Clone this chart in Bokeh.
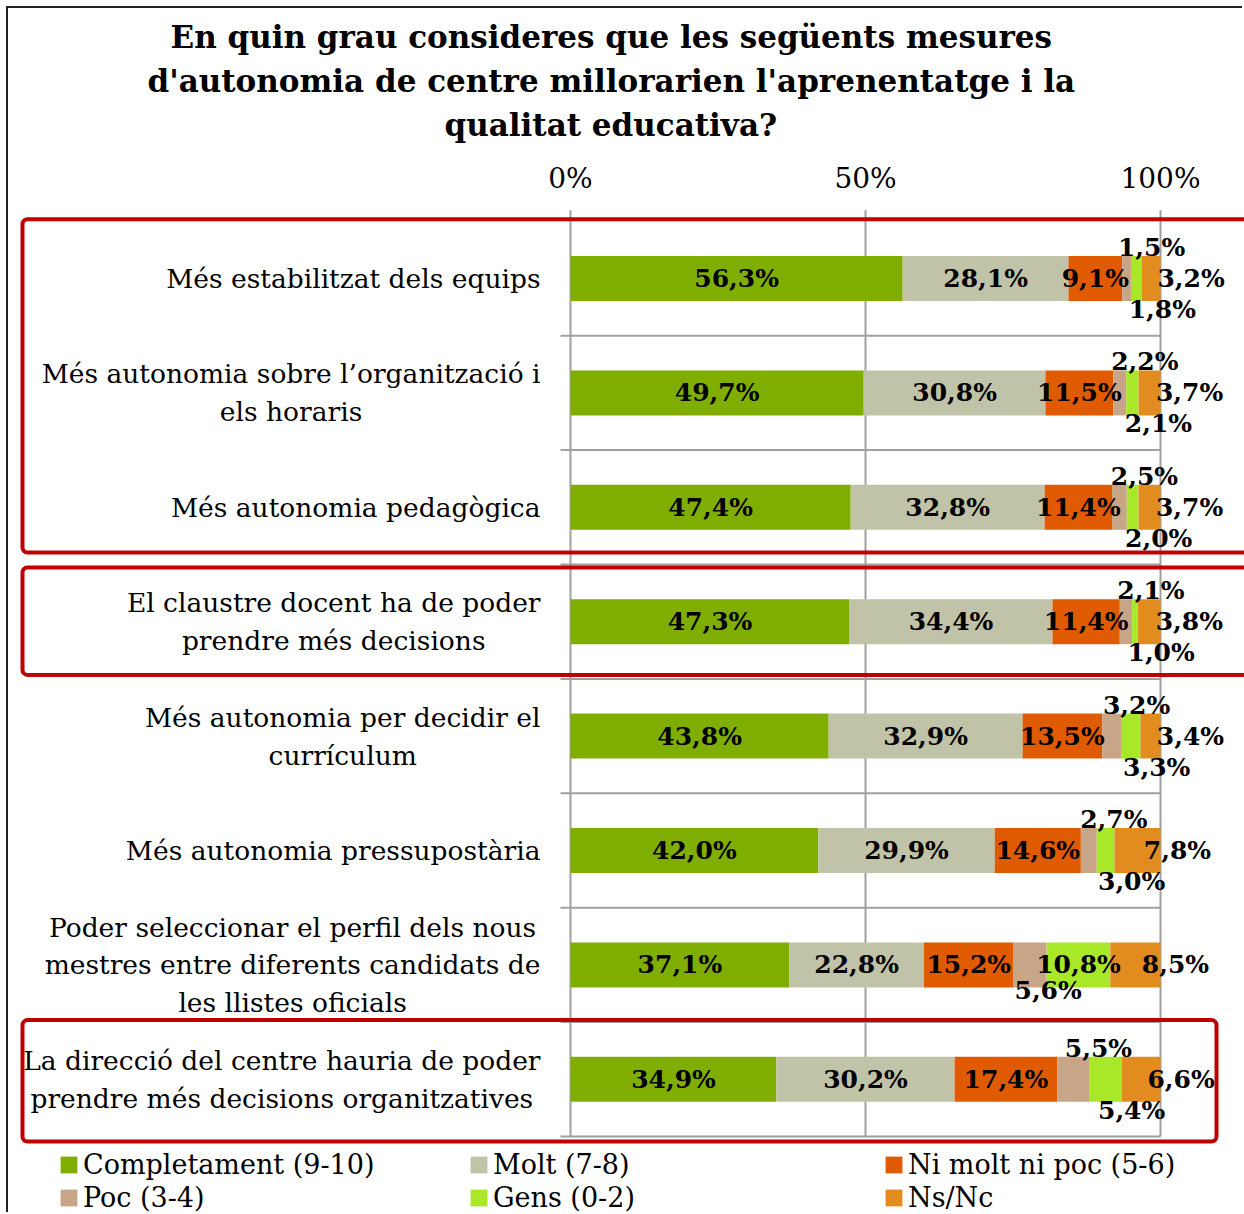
from bokeh.plotting import figure
from bokeh.models import (ColumnDataSource, Range1d, FixedTicker, Legend, LegendItem,
                          BoxAnnotation, Title)
from bokeh.core.properties import value
from bokeh.embed import file_html
from bokeh.resources import INLINE

# ---------------- data ----------------
categories = [
    "Més estabilitzat dels equips",
    "Més autonomia sobre l’organització i\nels horaris",
    "Més autonomia pedagògica",
    "El claustre docent ha de poder\nprendre més decisions",
    "Més autonomia per decidir el\ncurrículum",
    "Més autonomia pressupostària",
    "Poder seleccionar el perfil dels nous\nmestres entre diferents candidats de\nles llistes oficials",
    "La direcció del centre hauria de poder\nprendre més decisions organitzatives",
]
series = ["Completament (9-10)", "Molt (7-8)", "Ni molt ni poc (5-6)",
          "Poc (3-4)", "Gens (0-2)", "Ns/Nc"]
completament = [56.3, 49.7, 47.4, 47.3, 43.8, 42.0, 37.1, 34.9]
molt = [28.1, 30.8, 32.8, 34.4, 32.9, 29.9, 22.8, 30.2]
ni_molt_ni_poc = [9.1, 11.5, 11.4, 11.4, 13.5, 14.6, 15.2, 17.4]
poc = [1.5, 2.2, 2.5, 2.1, 3.2, 2.7, 5.6, 5.5]
gens = [1.8, 2.1, 2.0, 1.0, 3.3, 3.0, 10.8, 5.4]
ns_nc = [3.2, 3.7, 3.7, 3.8, 3.4, 7.8, 8.5, 6.6]
x_ticks = [0, 50, 100]
x_tick_labels = ["0%", "50%", "100%"]
# groups of categories framed in red (first index, last index)
highlight_groups = [(0, 2), (3, 3), (7, 7)]

title_lines = ["En quin grau consideres que les següents mesures",
               "d'autonomia de centre millorarien l'aprenentatge i la",
               "qualitat educativa?"]

# ---------------- style ----------------
colors = ["#80AE00", "#C0C3A7", "#E05A00", "#C9A588", "#A8E828", "#E28C1F"]
FONT = "DejaVu Serif"
W, H = 1236, 1206          # canvas, placed at page (8, 8)
PX_PER_PCT = 5.9
ZERO_PX = 562              # canvas x of 0 %
ROW_PX = 114.4
FRAME_TOP = 192
title_offsets = [162, 139, 436]   # left offset of each centred title line (px)
# red frames: (top inset, bottom inset) in px, right edge in px from 0 %
box_insets = [(-2, 12), (3, 4), (-2, -5)]
box_right_px = [700, 700, 646]

n = len(categories)
vals = [completament, molt, ni_molt_ni_poc, poc, gens, ns_nc]
keys = ["s%d" % k for k in range(len(vals))]

# 100 % stacked: normalise each row
data = {"y": list(range(n))}
for k, v in zip(keys, vals):
    data[k] = [v[i] / sum(vv[i] for vv in vals) * 100 for i in range(n)]
src = ColumnDataSource(data)

# y range (inverted, category index units)
row0_px = 270 - FRAME_TOP
y_top = -row0_px / ROW_PX
y_bottom = y_top + (H - FRAME_TOP) / ROW_PX

p = figure(width=W, height=H,
           x_range=Range1d(-ZERO_PX / PX_PER_PCT, (W - ZERO_PX) / PX_PER_PCT),
           y_range=Range1d(y_bottom, y_top),
           x_axis_location="above", y_axis_location=None,
           toolbar_location=None, output_backend="svg",
           min_border_left=0, min_border_right=0, min_border_bottom=0,
           min_border_top=FRAME_TOP)
p.outline_line_color = None
p.grid.visible = False
p.background_fill_color = "white"
p.border_fill_color = "white"
p.styles = {"margin-left": "8px", "margin-top": "8px",
            "box-shadow": "-2px -2px 0 0 #222"}

# top axis
ax = p.xaxis[0]
ax.ticker = FixedTicker(ticks=x_ticks)
ax.major_label_overrides = {t: l for t, l in zip(x_ticks, x_tick_labels)}
ax.axis_line_color = None
ax.major_tick_line_color = None
ax.minor_tick_line_color = None
ax.major_label_text_font = FONT
ax.major_label_text_font_size = "28px"
ax.major_label_text_color = "black"
ax.major_label_standoff = 0

# title: one Title per line (spacer first, nearest the axis)
p.add_layout(Title(text=" ", text_font_size="2px", standoff=9), "above")
for line, off in reversed(list(zip(title_lines, title_offsets))):
    p.add_layout(Title(text=line, align="left", offset=off, text_font=FONT,
                       text_font_style="bold", text_font_size="31px",
                       text_color="black", standoff=6), "above")

# vertical grid lines / value axis line
tick_ext = 11 / ROW_PX
p.segment(x0=x_ticks, x1=x_ticks, y0=[-0.5 - tick_ext] * len(x_ticks),
          y1=[n - 0.5] * len(x_ticks), line_color="#A0A0A0", line_width=2)
# category separators
sep_y = [i + 0.5 for i in range(n)]
p.segment(x0=[-10 / PX_PER_PCT] * n, x1=[100] * n, y0=sep_y, y1=sep_y,
          line_color="#A0A0A0", line_width=2)

# bars
renderers = p.hbar_stack(keys, y="y", height=45 / ROW_PX, fill_color=colors,
                         line_color=None, source=src)

# value labels
lx, ly, lt, ldx = [], [], [], []
for i in range(n):
    tot = sum(v[i] for v in vals)
    left = 0.0
    for k, v in enumerate(vals):
        w = v[i] / tot * 100
        c = left + w / 2
        left += w
        txt = ("%.1f" % v[i]).replace(".", ",") + "%"
        yy, dx = i, 0
        if k == 3 and v[i] < 8:
            if gens[i] < 8:
                yy, dx = i - 31 / ROW_PX, 25
            else:
                yy, dx = i + 26 / ROW_PX, 18
        elif k == 4 and v[i] < 8:
            yy, dx = i + 31 / ROW_PX, 26
        elif k == 5:
            dx = 40
        lx.append(c); ly.append(yy); lt.append(txt); ldx.append(dx)
lsrc = ColumnDataSource(dict(x=lx, y=ly, t=lt, dx=ldx))
p.text(x="x", y="y", text="t", x_offset="dx", source=lsrc,
       text_font=value(FONT), text_font_style="bold", text_font_size="25px",
       text_align="center", text_baseline="middle", text_color="black")

# category labels: block anchored at its right edge, lines centred
csrc = ColumnDataSource(dict(x=[0] * n, y=list(range(n)), t=categories))
p.text(x="x", y="y", text="t", source=csrc, x_offset=-30,
       anchor="center_right",
       text_font=value(FONT), text_font_size="26.5px", text_line_height=1.22,
       text_align="center", text_baseline="middle", text_color="black")

# red frames
box_left = -548 / PX_PER_PCT
for (a, b), (ti, bi), r in zip(highlight_groups, box_insets, box_right_px):
    p.add_layout(BoxAnnotation(left=box_left, right=r / PX_PER_PCT,
                               top=a - 0.5 + ti / ROW_PX,
                               bottom=b + 0.5 - bi / ROW_PX, fill_color=None,
                               line_color="#C00000", line_alpha=1.0,
                               line_width=4, border_radius=5))

# legend: three columns
legend_cols = [(0, 3), (1, 4), (2, 5)]
legend_x = [50, 460, 875]
for col, x in zip(legend_cols, legend_x):
    items = [LegendItem(label=series[k], renderers=[renderers[k]]) for k in col]
    lg = Legend(items=items, location=(x, 1), orientation="vertical",
                label_text_font=FONT, label_text_font_size="27px",
                label_text_color="black",
                glyph_width=21, glyph_height=21, label_standoff=4,
                label_height=30, spacing=2, padding=0, margin=0,
                border_line_color=None, background_fill_alpha=0)
    p.add_layout(lg)

open("out.html", "w").write(file_html(p, INLINE))
